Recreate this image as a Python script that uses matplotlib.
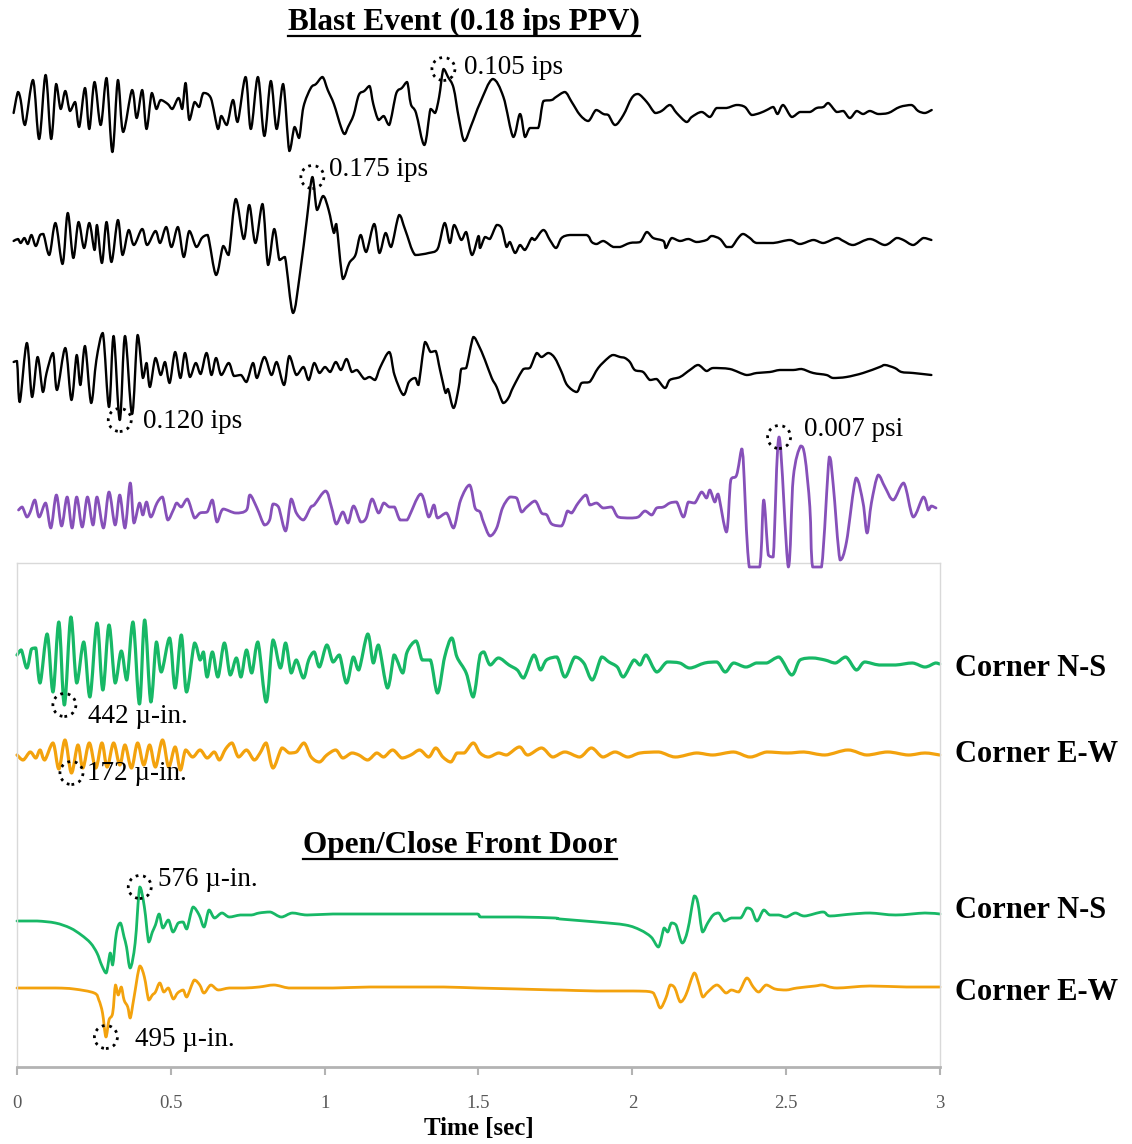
import numpy as np
import matplotlib
matplotlib.use("Agg")
import matplotlib.pyplot as plt
from matplotlib.patches import Ellipse, PathPatch
from matplotlib.lines import Line2D
from matplotlib.path import Path

# ---------------- data: (time [ms], relative amplitude) ----------------
vel_1 = [(-11, -2), (3, 19), (12, 11), (26, -14), (52, 31), (72, -28), (93, 36), (111, -28), (127, 27),
         (142, 2), (157, 20), (172, 0), (189, 9), (202, -16), (221, 23), (235, -18), (252, 29), (272, -14),
         (291, 33), (310, -41), (328, 31), (345, -21), (374, 21), (389, -7), (407, 21), (421, -18), (438, 18),
         (453, 2), (467, 11), (490, 7), (505, 2), (525, 13), (537, 2), (548, 28), (560, -9), (577, 9),
         (592, 4), (606, 18), (630, 13), (653, -18), (664, -5), (682, -14), (702, 11), (717, -11), (743, 34),
         (760, -18), (783, 34), (804, -25), (825, 30), (844, -18), (865, 27), (885, -40), (902, -16),
         (917, -27), (931, 4), (955, 23), (972, 27), (993, 34), (1010, 21), (1030, 7), (1053, -16),
         (1065, -23), (1076, -16), (1094, -4), (1111, 16), (1129, 20), (1146, 25), (1158, 7), (1175, -9),
         (1192, -5), (1210, -14), (1233, 18), (1251, 23), (1268, 29), (1280, 7), (1297, -2), (1324, -34),
         (1344, 2), (1359, -2), (1372, 14), (1386, 42), (1401, 34), (1419, 23), (1436, -7), (1454, -30),
         (1477, -14), (1505, 8), (1546, 32), (1581, 14), (1613, -26), (1635, -3), (1651, -26), (1667, -17),
         (1694, -17), (1711, 10), (1738, 11), (1752, 14), (1781, 19), (1803, 9), (1830, -4), (1857, -10),
         (1882, 1), (1906, -3), (1922, -4), (1944, -14), (1971, -4), (1998, 13), (2019, 17), (2047, 9),
         (2074, -2), (2095, 0), (2122, 6), (2144, -2), (2176, -11), (2193, -6), (2225, -1), (2252, -6),
         (2274, 3), (2306, 3), (2339, 6), (2366, 4), (2388, -4), (2415, -2), (2437, 1), (2458, 4),
         (2472, -3), (2490, 6), (2518, -6), (2545, -1), (2577, -1), (2599, 3), (2621, 4), (2637, 8),
         (2664, -1), (2686, 0), (2707, -7), (2729, 0), (2750, -3), (2772, 0), (2799, -3), (2832, -2),
         (2869, 4), (2907, 6), (2929, 0), (2951, -2), (2973, 1)]

vel_2 = [(-11, 1), (3, 3), (12, -1), (24, 4), (35, -2), (47, 7), (61, -4), (75, 7), (86, 8), (105, -13),
         (125, 19), (148, -22), (165, 29), (183, -16), (200, 20), (218, -6), (235, 19), (252, -8), (260, 17),
         (276, -21), (291, 20), (307, -20), (328, 22), (343, -13), (363, 12), (380, -3), (407, 13), (423, -3),
         (450, 11), (465, -1), (485, 15), (502, -5), (523, 15), (542, -15), (560, 11), (583, -5), (601, 4),
         (620, 7), (647, -33), (670, -4), (688, -13), (711, 43), (737, 3), (755, 37), (775, -1), (798, 38),
         (816, -23), (836, 13), (853, -18), (871, -15), (897, -71), (920, -31), (943, 25), (960, 65),
         (975, 32), (995, 46), (1013, 32), (1030, 9), (1038, 18), (1059, -37), (1080, -21), (1100, -13),
         (1117, 7), (1135, -10), (1161, 18), (1178, -11), (1198, 9), (1216, -5), (1242, 27), (1262, 12),
         (1294, -13), (1338, -11), (1367, -7), (1390, 19), (1407, -1), (1421, 17), (1444, 2), (1460, 10),
         (1479, -13), (1500, 6), (1505, -6), (1521, 5), (1537, 3), (1559, 17), (1575, 14), (1591, -5),
         (1602, 0), (1619, -11), (1635, -3), (1651, -8), (1673, 4), (1683, 2), (1711, 12), (1732, 2),
         (1752, -6), (1770, 4), (1797, 7), (1851, 7), (1868, 0), (1884, -2), (1906, 1), (1938, -5),
         (1960, -5), (1992, -1), (2025, 0), (2047, 10), (2068, 4), (2101, 1), (2109, -6), (2128, 4),
         (2155, 1), (2182, 3), (2209, 0), (2241, 2), (2258, 6), (2285, 3), (2306, -5), (2323, -5),
         (2344, 4), (2360, 8), (2382, 4), (2404, -1), (2458, -1), (2512, 2), (2545, -2), (2588, 2),
         (2621, -1), (2664, 4), (2686, 1), (2718, -3), (2772, 3), (2821, -3), (2859, 4), (2881, 2),
         (2913, -3), (2946, 4), (2972, 2)]

vel_3 = [(-11, 10), (0, 11), (9, -30), (32, 29), (49, -25), (67, 15), (84, -20), (96, -1), (117, 19),
         (130, -18), (157, 24), (177, -28), (194, 17), (206, -13), (221, 26), (241, -31), (258, 12),
         (279, 39), (299, -35), (314, 36), (334, -48), (351, 36), (374, -42), (392, 37), (409, -6), (421, 9),
         (432, -15), (450, 14), (467, -3), (481, 10), (496, -11), (514, 20), (531, -6), (546, 19), (562, -5),
         (581, 9), (597, -2), (616, 19), (632, -3), (647, 14), (664, -3), (688, 9), (705, -4), (728, -3),
         (746, -10), (767, 9), (780, -6), (804, 15), (827, -3), (844, 10), (868, -13), (885, 16), (908, -3),
         (931, 5), (948, -8), (966, 9), (983, -1), (1001, 5), (1018, 0), (1036, 10), (1053, 2), (1071, 13),
         (1088, 0), (1105, 2), (1129, -7), (1146, -5), (1164, -8), (1181, 5), (1210, 20), (1227, -3),
         (1256, -23), (1274, -10), (1294, -6), (1305, -13), (1326, 30), (1344, 20), (1361, 21), (1375, 2),
         (1393, -21), (1401, -17), (1419, -36), (1436, -15), (1444, 3), (1460, 4), (1483, 35), (1500, 27),
         (1521, 12), (1543, -6), (1559, -15), (1580, -31), (1597, -26), (1613, -15), (1646, 3), (1667, 4),
         (1689, 19), (1705, 15), (1727, 19), (1748, 14), (1770, 0), (1788, -13), (1819, -20), (1835, -11),
         (1861, -10), (1889, 4), (1921, 14), (1938, 17), (1960, 15), (1976, 14), (1992, 10), (2008, 2),
         (2035, 0), (2057, -8), (2079, -7), (2106, -16), (2122, -8), (2155, -5), (2187, 2), (2214, 7),
         (2241, 1), (2263, 4), (2317, 3), (2371, -3), (2404, -1), (2447, 0), (2479, 2), (2523, 2), (2550, 3),
         (2588, -1), (2631, -3), (2653, -6), (2696, -5), (2750, -1), (2804, 5), (2821, 7), (2853, 4),
         (2875, 0), (2913, -1), (2972, -3)]

air = [(5, 0), (17, 3), (32, -7), (43, -2), (58, 10), (72, -7), (93, 7), (110, -18), (128, 15), (145, -16),
       (163, 13), (179, -18), (194, 13), (212, -17), (229, 13), (247, -15), (260, 13), (281, -18), (299, 18),
       (319, -15), (334, 15), (351, -18), (368, 27), (380, -13), (398, 7), (409, -5), (421, 8), (435, -7),
       (455, 7), (473, 13), (490, -10), (508, 0), (519, 7), (534, 3), (554, 11), (577, -8), (595, -3),
       (618, -2), (635, 10), (650, -12), (670, 1), (711, -3), (746, 0), (757, 15), (780, 2), (804, -15),
       (821, -10), (832, 6), (850, 3), (873, -21), (891, 11), (908, -3), (931, -10), (955, 3), (966, 5),
       (1003, 19), (1022, 3), (1038, -14), (1059, -2), (1076, -13), (1094, 4), (1117, -12), (1135, -8),
       (1154, 11), (1175, -3), (1192, 7), (1210, 3), (1227, 3), (1245, -10), (1268, -10), (1312, 16),
       (1338, -7), (1355, 5), (1367, -8), (1396, -3), (1419, -18), (1442, 10), (1471, 25), (1489, 2),
       (1505, -2), (1516, -12), (1537, -26), (1559, -18), (1578, 2), (1602, 13), (1624, 12), (1640, -2),
       (1657, 3), (1684, 9), (1705, -3), (1722, -5), (1738, -14), (1770, -16), (1789, -1), (1803, -3),
       (1824, 7), (1849, 15), (1862, 5), (1884, 7), (1905, 2), (1933, 3), (1954, -7), (1992, -8),
       (2019, -7), (2041, -1), (2063, -5), (2079, 2), (2101, 3), (2122, 7), (2144, 8), (2166, -7),
       (2182, 8), (2203, 7), (2225, 18), (2241, 12), (2252, 20), (2268, 8), (2279, 16), (2306, -22),
       (2320, 30), (2339, 35), (2355, 61), (2360, 53), (2380, -57), (2414, -57), (2427, 10), (2442, -45),
       (2458, -47), (2477, 73), (2507, -57), (2523, 32), (2547, 64), (2561, 53), (2577, 3), (2586, -57),
       (2615, -57), (2640, 53), (2653, 25), (2675, -50), (2696, -32), (2727, 32), (2750, 7), (2763, -23),
       (2777, 7), (2799, 35), (2821, 23), (2848, 10), (2882, 27), (2913, -7), (2946, 13), (2962, 0),
       (2972, 4), (2987, 2)]

blast_ns = [(0, 7), (14, 12), (32, -6), (47, 13), (61, 14), (75, -21), (98, 28), (117, -30), (136, 40),
            (154, -43), (175, 45), (194, -21), (217, 20), (237, -35), (260, 39), (279, -28), (299, 37),
            (319, -21), (339, 11), (357, -18), (377, 40), (398, -42), (415, 42), (435, -40), (453, 20),
            (469, -10), (496, 24), (514, -26), (534, 27), (551, -30), (577, 19), (595, 2), (606, 10),
            (618, -15), (635, 10), (653, -15), (674, 19), (693, -13), (713, 4), (728, -15), (746, 12),
            (763, -11), (783, 20), (810, -40), (832, 22), (856, -6), (873, 19), (891, -11), (908, 2),
            (931, -16), (948, 2), (966, 10), (983, -5), (1007, 17), (1027, 0), (1048, 7), (1071, -21),
            (1093, 5), (1111, -8), (1140, 28), (1158, -1), (1175, 17), (1204, -26), (1225, 7), (1235, 2),
            (1254, -11), (1268, 10), (1297, 21), (1317, 2), (1344, 2), (1367, -31), (1390, 5), (1413, 24),
            (1430, 5), (1460, -11), (1483, -35), (1505, 7), (1518, 10), (1538, -3), (1565, 4), (1599, -3),
            (1626, -8), (1647, -16), (1680, 7), (1701, -8), (1721, 2), (1755, 5), (1781, -15), (1813, 5),
            (1842, -1), (1870, -18), (1900, 5), (1924, 0), (1951, -5), (1971, -15), (2005, 2), (2025, -3),
            (2045, 7), (2079, -10), (2113, 0), (2154, -1), (2187, -6), (2235, -1), (2275, 0), (2302, -10),
            (2329, -1), (2369, -5), (2403, -1), (2437, -1), (2477, 5), (2518, -13), (2545, 2), (2585, 4),
            (2626, 2), (2660, -1), (2694, 5), (2728, -8), (2755, 0), (2802, -3), (2856, -3), (2910, -1),
            (2951, -5), (2985, -1), (2999, -2)]

blast_ew = [(0, -1), (20, -6), (43, 2), (61, -4), (75, 4), (90, -6), (117, 11), (136, -15), (156, 14),
            (177, -19), (198, 9), (214, -14), (235, 11), (256, -14), (276, 11), (293, -13), (314, 11),
            (334, -11), (351, 9), (372, -14), (392, 11), (412, -11), (431, 9), (450, -13), (473, 14),
            (493, -13), (514, 7), (531, -16), (548, 4), (571, -3), (595, 4), (618, -4), (641, 2), (658, -6),
            (678, 5), (699, 11), (720, -3), (746, 4), (771, -6), (790, 1), (810, 11), (832, -14), (861, 6),
            (885, 1), (908, 2), (933, 11), (956, -3), (983, -8), (1007, -1), (1036, 4), (1059, -4), (1088, 1),
            (1111, -1), (1140, -6), (1169, 1), (1192, -3), (1221, 4), (1251, -4), (1280, -1), (1309, 4),
            (1338, -3), (1361, 6), (1384, -3), (1410, -8), (1430, 1), (1454, 1), (1483, 11), (1505, 1),
            (1532, -3), (1565, 1), (1592, -1), (1633, 7), (1660, -1), (1705, 6), (1741, -3), (1781, 2),
            (1829, -3), (1867, 6), (1904, -3), (1944, 2), (1985, -3), (2025, 1), (2086, 2), (2140, -3),
            (2208, 1), (2262, -1), (2329, 2), (2383, -3), (2437, 2), (2504, 1), (2558, 2), (2626, -1),
            (2701, 4), (2762, -1), (2830, 2), (2897, -1), (2951, 1), (2999, -1)]

door_ns = [(0, -7), (65, -7), (125, -9), (173, -14), (209, -21), (239, -29), (260, -39), (275, -51),
           (290, -59), (303, -39), (311, -51), (323, -19), (336, -9), (348, -23), (356, -33), (368, -54),
           (384, -29), (399, 27), (414, 7), (428, -28), (440, -18), (450, -11), (462, 0), (474, -14),
           (492, -6), (507, -18), (524, -9), (540, -8), (552, -15), (572, 7), (592, -1), (608, -13),
           (624, 4), (642, -4), (666, 1), (690, -3), (726, -1), (762, -1), (787, 1), (823, 2), (859, -3),
           (895, 1), (943, -1), (1027, 0), (1147, 0), (1267, 0), (1387, 0), (1496, 0), (1508, -3),
           (1628, -3), (1748, -4), (1765, -5), (1884, -8), (1978, -11), (2026, -16), (2061, -23),
           (2085, -33), (2103, -14), (2115, -18), (2127, -9), (2142, -11), (2162, -29), (2180, -16),
           (2201, 18), (2213, 11), (2228, -18), (2245, -9), (2263, -1), (2281, 1), (2299, -7), (2322, -4),
           (2352, -4), (2372, 6), (2388, 4), (2405, -7), (2427, 4), (2447, -1), (2476, -1), (2500, -3),
           (2530, 1), (2560, -2), (2619, 2), (2643, -2), (2714, 0), (2773, 1), (2856, -1), (2951, 1),
           (3000, 0)]

door_ew = [(0, 0), (125, 0), (185, -1), (251, -5), (266, -12), (278, -25), (289, -49), (299, -32),
           (311, -25), (320, 3), (329, -7), (339, 1), (348, -12), (360, -19), (368, -30), (380, -10),
           (399, 22), (414, 11), (428, -12), (440, -7), (450, -4), (464, 5), (477, -4), (492, 0),
           (508, -11), (522, -5), (540, -2), (552, -9), (576, 8), (594, 3), (608, -5), (630, 3), (654, -2),
           (690, 0), (739, 0), (787, 1), (835, 3), (883, 0), (931, 0), (1027, 0), (1147, 1), (1267, 1),
           (1387, 1), (1496, 0), (1628, -1), (1748, -2), (1765, -2), (1884, -3), (2002, -3), (2061, -4),
           (2075, -9), (2091, -20), (2109, -10), (2123, 3), (2138, 0), (2156, -14), (2174, -7), (2201, 15),
           (2215, 5), (2229, -9), (2245, -4), (2275, 3), (2304, -5), (2322, -2), (2346, -4), (2372, 10),
           (2393, 1), (2411, -4), (2435, 3), (2464, -1), (2500, -2), (2535, 0), (2594, 2), (2618, 3),
           (2665, 0), (2772, 2), (2891, 1), (3000, 1)]

x_ticks = [0, 0.5, 1, 1.5, 2, 2.5, 3]
x_tick_labels = ["0", "0.5", "1", "1.5", "2", "2.5", "3"]

# ---------------- styling / layout ----------------
W, H = 1132, 1144
SERIF = ["Liberation Serif", "DejaVu Serif"]
plt.rcParams["font.family"] = SERIF
GREEN, ORANGE, PURPLE = "#17b866", "#f3a20d", "#8650b9"

fig = plt.figure(figsize=(W / 100, H / 100), dpi=100)


def frac_box(left, top, right, bottom):
    return [left / W, 1 - bottom / H, (right - left) / W, (bottom - top) / H]


ax = fig.add_axes(frac_box(17, 563, 940, 1067))
ax.set_xlim(0, 3)
ax.set_ylim(-1067, -563)
ax.patch.set_facecolor("none")
for s in ("left", "top", "right"):
    ax.spines[s].set_color("#d9d9d9")
    ax.spines[s].set_linewidth(1.0)
ax.spines["bottom"].set_color("#b3b3b3")
ax.spines["bottom"].set_linewidth(2.0)
ax.set_yticks([])
ax.set_xticks(x_ticks)
ax.set_xticklabels(x_tick_labels)
ax.tick_params(axis="x", direction="out", length=6, width=1.5, color="#b3b3b3",
               pad=14, labelsize=13.5, labelcolor="#595959")

ax_top = fig.add_axes(frac_box(17, 0, 940, 567))
ax_top.set_xlim(0, 3)
ax_top.set_ylim(-567, 0)
ax_top.axis("off")

PX_PER_SEC = 923 / 3.0


def smooth_path(x, y):
    """Excel-style smoothed line through the read points (no extra data points)."""
    pts = np.column_stack([x, y])
    n = len(pts)
    verts = [pts[0]]
    codes = [Path.MOVETO]
    for i in range(n - 1):
        p0 = pts[max(i - 1, 0)]
        p1 = pts[i]
        p2 = pts[i + 1]
        p3 = pts[min(i + 2, n - 1)]
        lo = np.minimum(p1, p2)
        hi = np.maximum(p1, p2)
        c1 = np.clip(p1 + (p2 - p0) / 6.0, lo, hi)
        c2 = np.clip(p2 - (p3 - p1) / 6.0, lo, hi)
        verts += [c1, c2, p2]
        codes += [Path.CURVE4] * 3
    return Path(np.array(verts), codes)


def trace(a, data, base, color, lw):
    t = np.array([d[0] for d in data]) / 1000.0
    y = np.array([d[1] for d in data], dtype=float) + base
    a.add_patch(PathPatch(smooth_path(t, y), fill=False, edgecolor=color, lw=lw,
                          joinstyle="round", capstyle="round", clip_on=False))
    return t, y


def mark(a, t, y, idx, label, dx, dy):
    cx, cy = t[idx], y[idx]
    a.add_patch(Ellipse((cx, cy), width=23 / PX_PER_SEC, height=23, fill=False,
                        edgecolor="black", lw=2.0, ls=(0, (1, 1.7)), clip_on=False, zorder=5))
    a.annotate(label, xy=(cx, cy), xytext=(dx, dy), textcoords="offset pixels",
               ha="left", va="center", fontsize=19.5, family=SERIF, annotation_clip=False)


t, y = trace(ax_top, vel_1, -111, "black", 1.7)
mark(ax_top, t, y, np.argmax(y), "0.105 ips", 21, 2)
t, y = trace(ax_top, vel_2, -242, "black", 1.7)
mark(ax_top, t, y, np.argmax(y), "0.175 ips", 17, 7)
t, y = trace(ax_top, vel_3, -372, "black", 1.7)
mark(ax_top, t, y, np.argmin(y), "0.120 ips", 23, -1)
t, y = trace(ax_top, air, -510, PURPLE, 2.0)
mark(ax_top, t, y, np.argmax(y), "0.007 psi", 25, 7)

t, y = trace(ax, blast_ns, -662, GREEN, 2.3)
mark(ax, t, y, np.argmin(y), "442 µ-in.", 24, -12)
t, y = trace(ax, blast_ew, -754, ORANGE, 2.3)
mark(ax, t, y, np.argmin(y), "172 µ-in.", 16, -1)
t, y = trace(ax, door_ns, -914, GREEN, 2.0)
mark(ax, t, y, np.argmax(y), "576 µ-in.", 18, 8)
t, y = trace(ax, door_ew, -988, ORANGE, 2.0)
mark(ax, t, y, np.argmin(y), "495 µ-in.", 29, -2)

# labels
for ypx, lab in [(668, "Corner N-S"), (755, "Corner E-W"), (910, "Corner N-S"), (993, "Corner E-W")]:
    fig.text(955 / W, 1 - ypx / H, lab, fontsize=22, fontweight="bold", ha="left", va="center")

t1 = fig.text(464 / W, 1 - 22 / H, "Blast Event (0.18 ips PPV)", fontsize=22.5,
              fontweight="bold", ha="center", va="center")
t2 = fig.text(460 / W, 1 - 845 / H, "Open/Close Front Door", fontsize=22.5,
              fontweight="bold", ha="center", va="center")
fig.text(479 / W, 1 - 1128 / H, "Time [sec]", fontsize=18, fontweight="bold",
         ha="center", va="center")

fig.canvas.draw()
inv = fig.transFigure.inverted()
for txt in (t1, t2):
    bb = txt.get_window_extent()
    (x0, y0), (x1, _) = inv.transform([(bb.x0, bb.y0), (bb.x1, bb.y0)])
    yl = y0 + 1 / H
    fig.add_artist(Line2D([x0, x1], [yl, yl], transform=fig.transFigure, color="black", lw=1.6))

fig.savefig("out.png", dpi=100)
